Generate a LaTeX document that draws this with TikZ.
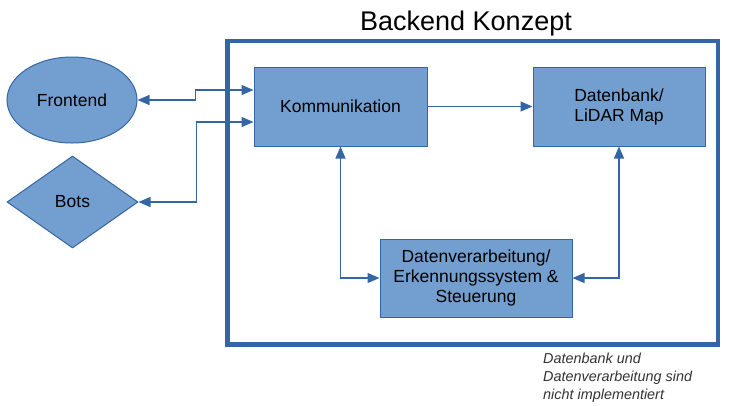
\documentclass[tikz,border=0pt]{standalone}
\usepackage{fontspec}
\setmainfont{Liberation Sans}
\usetikzlibrary{shapes.geometric,arrows.meta}
\definecolor{boxfill}{HTML}{729FCF}
\definecolor{boxline}{HTML}{3465A4}
\definecolor{captext}{HTML}{333333}
\tikzset{
  blk/.style={draw=boxline, fill=boxfill, line width=1pt, inner sep=0pt, align=center,
    font=\fontsize{17.5}{20}\selectfont},
  conn/.style={draw=boxline, line width=1.2pt},
  onearr/.style={conn, -{Triangle[length=12pt,width=10pt]}},
  biarr/.style={conn, {Triangle[length=12pt,width=10pt]}-{Triangle[length=12pt,width=10pt]}},
  captxt/.style={anchor=base west, inner sep=0pt, text=captext, font=\fontsize{14.4}{18}\selectfont\itshape}
}
\begin{document}
\begin{tikzpicture}[x=1pt,y=-1pt]
\useasboundingbox (0,0) rectangle (730,405);
% frame
\draw[boxline, line width=4.5pt] (227.5,41) rectangle (718,344.5);
\node[anchor=base, inner sep=0pt, font=\fontsize{27}{30}\selectfont] (title) at (466,30) {Backend Konzept};
% nodes
\node[blk, minimum width=173pt, minimum height=79pt] (komm) at (340.5,106.5) {Kommunikation};
\node[blk, minimum width=172pt, minimum height=79pt] (db) at (619,106.5) {Datenbank/\\LiDAR Map};
\node[blk, minimum width=192pt, minimum height=78pt] (dv) at (476,278) {Datenverarbeitung/\\Erkennungssystem \&\\Steuerung};
\node[blk, ellipse, minimum width=130pt, minimum height=86pt] (fe) at (72,100) {Frontend};
\node[blk, diamond, minimum width=131pt, minimum height=92pt] (bots) at (72.5,202) {Bots};
% connectors
\draw[biarr] (fe.east) -- ++(58,0) |- ([yshift=16.5pt]komm.west);
\draw[biarr] (bots.east) -- ++(58,0) |- ([yshift=-15.5pt]komm.west);
\draw[onearr] (komm.east) -- (db.west);
\draw[biarr] (komm.south) |- (dv.west);
\draw[biarr] (db.south) |- (dv.east);
% caption
\node[captxt] (c1) at (543,363) {Datenbank und};
\node[captxt] (c2) at (543,381) {Datenverarbeitung sind};
\node[captxt] (c3) at (543,399) {nicht implementiert};
\end{tikzpicture}
\end{document}
